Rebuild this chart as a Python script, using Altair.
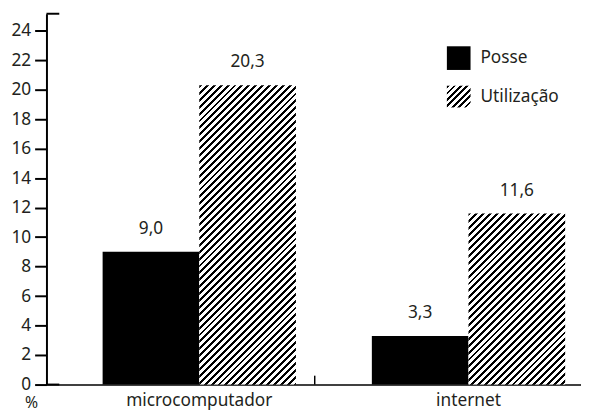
import altair as alt
import pandas as pd

# ---------------- data ----------------
categories = ["microcomputador", "internet"]
series = ["Posse", "Utilização"]
posse = [9.0, 3.3]
utilizacao = [20.3, 11.6]
y_ticks = [0, 2, 4, 6, 8, 10, 12, 14, 16, 18, 20, 22, 24]
unit_label = "%"

# ---------------- layout / style ----------------
W, H = 542, 376
YMAX = 25.15
FONT = "Noto Sans"
FS = 17.5
TXT = "#231f20"
P_IN, P_OUT, ALIGN = 0.282, 0.1337, 0.78

step = W / (len(categories) - P_IN + 2 * P_OUT)
bar_w = step * (1 - P_IN) / len(series)


def hatch(w, h, period=7.0, ink=0.42):
    """Diagonal (////) hatching as a linear gradient in bounding-box units."""
    span = w + h
    t = span / (w * w + h * h)
    stops = []
    k = 0
    while k * period < span:
        a = k * period / span
        b = min((k + ink) * period / span, 1)
        c = min((k + 1) * period / span, 1)
        stops += [
            {"offset": a, "color": "black"},
            {"offset": b, "color": "black"},
            {"offset": b, "color": "white"},
            {"offset": c, "color": "white"},
        ]
        k += 1
    return {"gradient": "linear", "x1": 0, "y1": 0, "x2": w * t, "y2": h * t, "stops": stops}


rows = []
for c, p, u in zip(categories, posse, utilizacao):
    rows.append({"category": c, "series": series[0], "value": p})
    rows.append({"category": c, "series": series[1], "value": u})
df = pd.DataFrame(rows)
df["label"] = df["value"].map(lambda v: f"{v:.1f}".replace(".", ","))

x_enc = alt.X(
    "category:N",
    sort=categories,
    scale=alt.Scale(domain=categories, paddingInner=P_IN, paddingOuter=P_OUT, align=ALIGN),
    axis=alt.Axis(
        title=None, labelAngle=0, ticks=False, tickSize=0, labelPadding=7,
        labelFont=FONT, labelFontSize=FS, labelColor=TXT,
        domainColor="black", domainWidth=1.5, grid=False,
    ),
)
xo_enc = alt.XOffset(
    "series:N", sort=series,
    scale=alt.Scale(domain=series, paddingInner=0, paddingOuter=0),
)
y_enc = alt.Y(
    "value:Q",
    scale=alt.Scale(domain=[0, YMAX], nice=False, zero=True),
    axis=alt.Axis(
        title=None, values=y_ticks, tickSize=12, tickWidth=2, tickColor="black",
        domainColor="black", domainWidth=2, labelPadding=4,
        labelFont=FONT, labelFontSize=FS, labelColor=TXT, grid=False,
    ),
)

base = alt.Chart(df).encode(x=x_enc, xOffset=xo_enc, y=y_enc)

layers = []
layers.append(
    base.transform_filter(alt.datum.series == series[0]).mark_bar(color="black")
)
for c, v in zip(categories, utilizacao):
    h = v * H / YMAX
    layers.append(
        base.transform_filter(
            (alt.datum.series == series[1]) & (alt.datum.category == c)
        ).mark_bar(fill=hatch(bar_w, h))
    )
layers.append(
    base.mark_text(
        dy=-18, baseline="alphabetic", font=FONT, fontSize=FS, color=TXT
    ).encode(text="label:N")
)

# decorations (axis ends, separator tick, unit label)
deco = alt.Chart(pd.DataFrame({"u": [unit_label]}))
layers.append(deco.mark_rule(color="black", strokeWidth=2).encode(
    x=alt.value(0), x2=alt.value(13), y=alt.value(0)))
layers.append(deco.mark_rule(color="black", strokeWidth=2).encode(
    x=alt.value(0), x2=alt.value(13), y=alt.value(H)))
layers.append(deco.mark_rule(color="black", strokeWidth=1.5).encode(
    x=alt.value(272), y=alt.value(H - 9), y2=alt.value(H)))
layers.append(deco.mark_text(
    font=FONT, fontSize=16, color=TXT, baseline="alphabetic", align="center"
).encode(x=alt.value(-15), y=alt.value(H + 24), text="u:N"))

# legend
leg_posse = alt.Chart(pd.DataFrame({"s": [series[0]]}))
leg_util = alt.Chart(pd.DataFrame({"s": [series[1]]}))
layers.append(leg_posse.mark_rect(color="black").encode(
    x=alt.value(406), x2=alt.value(430), y=alt.value(33), y2=alt.value(57)))
layers.append(leg_util.mark_rect(fill=hatch(24, 22, period=6.5, ink=0.45)).encode(
    x=alt.value(406), x2=alt.value(430), y=alt.value(73), y2=alt.value(95)))
layers.append(leg_posse.mark_text(
    font=FONT, fontSize=FS, color=TXT, align="left", baseline="middle"
).encode(x=alt.value(440), y=alt.value(45), text="s:N"))
layers.append(leg_util.mark_text(
    font=FONT, fontSize=FS, color=TXT, align="left", baseline="middle"
).encode(x=alt.value(440), y=alt.value(84), text="s:N"))

chart = (
    alt.layer(*layers)
    .properties(
        width=W, height=H,
        autosize=alt.AutoSizeParams(type="none"),
        padding={"left": 39, "top": 3, "right": 0, "bottom": 25},
        background="white",
    )
    .configure_view(stroke=None)
)

chart.save("out.html", embed_options={"renderer": "svg", "actions": False})
